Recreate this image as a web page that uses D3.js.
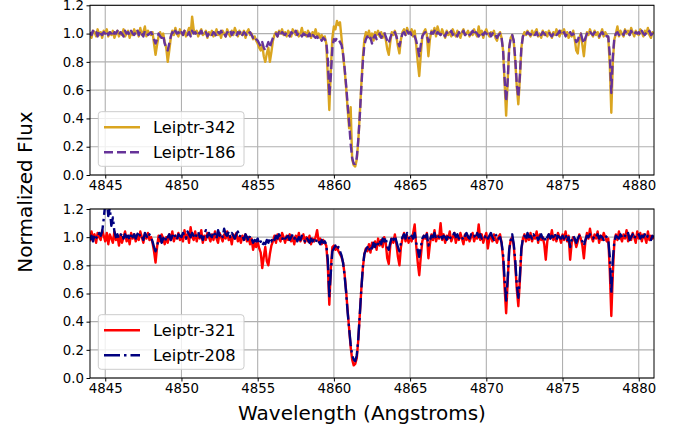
<!DOCTYPE html>
<html><head><meta charset="utf-8">
<script src="https://cdn.jsdelivr.net/npm/d3@7"></script>
<style>body{margin:0;background:#fff} svg{display:block} text{font-family:"DejaVu Sans",sans-serif}</style>
</head><body><svg id="c" width="678" height="432"></svg>
<script>
// Wavelength grid (Angstroms): 4844.0 .. 4881.0, 0.1 A sampling
const waveStart = 4844.0, waveStep = 0.1;
const xTicks = [4845, 4850, 4855, 4860, 4865, 4870, 4875, 4880];
const yTicks = [0.0, 0.2, 0.4, 0.6, 0.8, 1.0, 1.2];
const seriesTop = ["Leiptr-342", "Leiptr-186"];
const seriesBottom = ["Leiptr-321", "Leiptr-208"];

const flux342 = [
1.00,0.97,1.02,1.01,0.98,1.03,0.99,1.01,0.97,1.02,
1.00,1.03,0.98,1.01,0.99,1.02,0.97,1.00,1.02,0.98,
1.01,0.99,1.03,0.98,1.00,1.02,0.97,1.01,0.99,1.03,
1.00,1.02,0.98,1.04,0.99,1.01,1.05,0.98,1.02,1.00,
0.99,1.01,0.93,0.85,0.92,0.98,1.01,0.97,1.00,0.94,
0.90,0.80,0.88,0.97,1.02,0.99,1.04,1.00,0.98,1.03,
1.00,0.99,1.02,0.98,1.01,1.04,0.99,1.12,1.03,1.00,
1.02,0.98,1.01,1.03,0.99,1.00,1.02,0.97,1.01,0.99,
1.02,0.98,1.00,1.03,0.99,1.01,0.97,1.02,1.00,0.98,
1.03,1.00,0.98,1.02,0.99,1.04,1.01,0.98,1.02,1.00,
0.99,1.02,0.97,1.01,1.03,0.99,1.00,0.96,0.98,0.95,
0.93,0.90,0.88,0.92,0.84,0.80,0.86,0.90,0.80,0.87,
0.95,0.99,1.01,0.98,1.02,1.00,1.03,0.99,1.01,0.98,
1.02,1.00,0.98,1.03,1.01,0.99,1.02,0.98,1.00,1.04,
0.99,1.01,0.98,1.02,1.00,0.97,1.01,0.99,1.03,0.98,
1.00,0.97,0.99,0.96,0.98,0.93,0.70,0.46,0.75,0.97,
1.05,1.03,1.09,1.06,1.08,0.97,0.85,0.75,0.62,0.47,
0.33,0.48,0.11,0.07,0.06,0.11,0.24,0.43,0.64,0.83,
0.96,1.01,0.98,1.02,0.97,1.00,0.95,1.01,0.99,1.02,
0.98,1.01,0.97,1.00,0.96,0.89,0.85,0.94,1.01,0.99,
1.02,0.98,0.91,0.86,0.96,1.01,1.03,0.99,1.04,1.01,
1.00,1.03,0.98,1.02,0.92,0.80,0.70,0.85,0.98,1.01,
1.03,0.99,0.84,0.96,1.02,1.00,1.04,0.98,1.05,1.01,
0.99,1.03,1.00,0.97,1.02,0.99,1.01,0.98,1.03,1.00,
0.98,1.02,1.00,0.97,1.01,1.03,0.99,1.00,1.02,0.98,
1.01,0.99,1.03,1.00,0.98,1.05,0.99,1.02,0.97,1.01,
1.03,1.00,0.98,1.01,0.99,1.02,0.97,0.95,0.99,1.01,
0.97,0.88,0.65,0.42,0.66,0.90,0.97,0.99,0.94,0.80,
0.62,0.50,0.68,0.90,0.98,1.01,0.99,1.02,1.00,0.98,
1.02,0.99,1.01,1.03,0.98,1.00,0.97,1.02,0.99,1.01,
0.98,1.02,1.00,0.97,1.01,0.99,1.03,1.00,0.98,1.02,
1.00,1.03,0.99,1.01,0.97,1.00,0.98,1.02,0.96,0.88,
0.86,0.97,1.00,0.92,0.84,0.95,1.01,0.99,1.03,1.00,
0.98,1.02,0.99,1.01,0.97,1.00,1.03,0.98,1.01,0.99,
0.97,0.78,0.44,0.80,0.96,1.00,1.05,0.98,1.02,1.00,
0.98,1.03,1.00,1.02,0.99,1.04,1.01,0.98,1.02,1.00,
0.99,1.03,1.01,0.98,1.02,1.00,1.04,0.99,0.97,1.01,
1.00];

const flux186 = [
1.01,0.99,1.02,1.00,1.01,0.98,1.02,1.00,0.99,1.01,
1.00,1.02,0.99,1.01,1.00,0.98,1.01,1.00,1.02,0.99,
1.01,1.00,0.98,1.02,1.00,1.01,0.99,1.02,1.00,0.99,
1.01,1.03,0.99,1.02,1.00,0.98,1.02,1.01,0.99,1.00,
1.01,0.99,0.96,0.93,0.96,1.00,0.98,0.97,0.99,0.93,
0.90,0.88,0.93,0.98,1.01,0.99,1.02,1.00,1.01,0.99,
1.01,0.99,1.02,1.00,0.99,1.01,0.98,1.02,1.00,1.01,
0.99,1.01,1.00,1.02,0.99,1.00,1.01,0.98,1.00,1.01,
0.99,1.01,1.00,0.98,1.01,1.00,1.02,0.99,1.00,0.98,
1.01,1.00,1.02,0.99,1.01,1.00,0.98,1.01,1.00,1.02,
0.99,1.01,1.00,0.98,1.00,1.01,0.99,0.97,0.98,0.96,
0.95,0.93,0.91,0.94,0.90,0.88,0.91,0.94,0.90,0.94,
0.97,0.99,1.00,0.98,1.01,0.99,1.01,1.00,0.99,1.01,
1.00,0.98,1.01,1.00,0.99,1.02,0.99,1.01,1.00,0.98,
1.00,0.99,1.01,0.98,1.00,0.97,0.99,0.98,0.97,0.98,
0.96,0.97,0.95,0.97,0.96,0.94,0.82,0.56,0.70,0.90,
0.96,0.95,0.97,0.96,0.94,0.92,0.86,0.76,0.64,0.50,
0.37,0.22,0.12,0.08,0.08,0.12,0.25,0.42,0.62,0.80,
0.92,0.96,0.98,0.95,0.97,0.93,0.97,0.99,0.96,0.98,
1.00,0.97,0.99,1.01,0.98,0.95,0.93,0.97,1.00,0.99,
1.01,0.98,0.94,0.91,0.96,1.00,1.01,0.99,1.02,1.00,
1.01,0.99,1.00,0.98,0.95,0.90,0.84,0.92,0.98,1.00,
1.01,0.99,0.94,0.98,1.01,1.00,1.02,0.99,1.01,1.00,
0.99,1.01,1.00,0.98,1.01,0.99,1.00,1.02,0.99,1.01,
1.00,0.98,1.01,0.99,1.00,1.02,0.99,1.00,1.01,0.99,
1.00,1.02,0.99,1.01,1.00,0.98,1.01,1.00,0.99,1.01,
1.00,0.99,1.01,0.98,1.00,1.01,0.99,0.97,0.99,1.00,
0.97,0.88,0.68,0.52,0.66,0.90,0.97,0.99,0.95,0.82,
0.64,0.55,0.70,0.90,0.98,1.00,0.99,1.01,1.00,0.99,
1.01,1.00,0.99,1.01,0.98,1.00,0.99,1.01,1.00,0.99,
1.00,1.01,0.99,0.98,1.00,1.01,0.99,1.00,1.02,0.99,
1.00,1.01,0.98,1.00,0.99,1.01,0.99,1.00,0.97,0.94,
0.95,0.99,1.00,0.96,0.93,0.97,1.00,0.99,1.01,1.00,
0.99,1.01,1.00,0.99,0.98,1.00,1.01,0.99,1.00,0.98,
0.98,0.85,0.58,0.84,0.97,1.00,1.01,0.99,1.00,1.01,
0.99,1.02,1.00,1.01,0.99,1.02,1.00,0.99,1.01,1.00,
1.01,0.99,1.02,1.00,0.99,1.01,1.00,1.02,0.99,1.00,
1.00];

const flux321 = [
0.97,1.04,0.99,1.02,0.96,1.03,1.00,0.98,1.05,1.01,
0.97,1.03,0.95,1.02,0.99,0.96,1.04,0.98,1.01,0.94,
1.02,0.96,1.00,1.04,0.97,1.01,0.95,1.03,0.99,1.02,
0.97,1.01,0.98,1.04,1.00,0.96,1.02,0.99,1.03,0.98,
1.00,0.96,0.90,0.82,0.93,1.01,0.97,1.02,0.99,0.95,
1.00,0.96,1.02,0.98,1.04,0.97,1.01,0.99,1.03,0.98,
1.01,0.97,1.05,0.99,1.02,0.96,1.07,1.00,0.98,1.04,
0.97,1.02,0.99,1.05,0.96,1.01,0.98,1.03,1.00,0.97,
1.02,0.98,1.04,0.99,0.96,1.03,1.00,0.97,1.02,0.99,
1.04,0.98,1.01,0.95,1.02,0.99,1.03,0.97,1.00,0.96,
1.01,0.98,1.02,0.97,1.00,0.95,0.99,0.91,0.96,0.93,
0.97,0.92,0.89,0.78,0.86,0.93,0.83,0.80,0.88,0.94,
0.97,1.01,0.96,1.02,0.99,0.97,1.03,1.00,0.96,1.01,
0.98,1.02,0.97,1.00,0.95,1.01,0.98,1.03,0.97,0.99,
1.02,0.96,1.00,0.97,1.01,0.95,0.99,0.97,1.00,1.05,
0.97,0.99,0.95,0.98,0.96,0.94,0.80,0.52,0.78,0.93,
0.94,0.91,0.93,0.90,0.88,0.86,0.82,0.74,0.62,0.48,
0.35,0.22,0.13,0.09,0.10,0.14,0.27,0.45,0.63,0.78,
0.88,0.92,0.90,0.95,0.89,0.96,0.93,0.97,0.91,0.99,
0.94,0.98,0.93,1.00,0.96,0.85,0.81,0.94,0.99,0.96,
1.02,0.95,0.86,0.80,0.93,0.99,1.03,0.97,1.01,0.96,
1.00,0.97,1.03,1.09,0.94,0.82,0.73,0.86,0.97,1.01,
0.99,1.03,0.85,0.95,1.02,0.98,1.05,0.97,1.01,0.99,
1.10,0.98,1.02,0.96,1.01,0.99,1.04,0.97,1.00,1.03,
0.96,1.01,0.98,1.03,0.99,0.95,1.02,0.98,1.01,0.97,
1.00,1.03,0.97,1.01,0.99,1.09,0.98,1.02,0.96,1.00,
1.03,0.92,0.99,1.01,0.97,1.02,0.99,0.96,1.00,1.02,
0.96,0.85,0.64,0.46,0.68,0.91,0.98,1.00,0.94,0.80,
0.63,0.51,0.69,0.91,0.99,1.02,0.97,1.01,0.98,1.03,
0.97,1.01,0.99,1.04,0.96,1.02,0.98,1.00,0.95,0.84,
0.97,1.02,0.99,1.05,0.98,1.01,0.97,1.03,1.00,0.96,
1.02,0.98,1.04,0.97,1.01,0.84,0.96,1.00,0.98,0.93,
0.97,1.02,0.99,0.94,0.85,0.97,1.03,0.99,1.06,1.00,
0.97,1.02,0.99,1.04,0.96,1.01,0.98,1.03,1.00,0.97,
0.99,0.76,0.44,0.74,0.97,1.02,0.98,1.04,1.00,0.97,
1.02,0.99,1.05,0.97,1.01,0.98,1.03,1.00,0.96,1.04,
0.99,1.03,0.97,1.02,1.00,0.96,1.04,0.98,1.01,0.99,
1.00];

const flux208 = [
0.98,1.01,0.97,1.02,1.00,0.99,1.03,1.01,1.04,1.13,
1.24,1.27,1.15,1.21,1.08,1.14,1.04,1.00,1.02,0.99,
1.01,1.03,0.99,1.02,1.00,1.01,0.98,1.03,1.00,1.02,
0.99,1.02,1.04,1.00,1.01,0.98,1.03,1.01,0.99,1.02,
1.00,0.97,0.93,0.90,0.94,0.98,1.01,0.96,0.99,1.01,
0.97,1.00,1.02,0.98,1.01,1.03,1.00,0.98,1.02,1.01,
1.00,1.03,1.01,0.99,1.04,1.02,1.00,1.03,1.01,0.99,
1.02,1.04,1.00,1.01,0.98,1.02,1.05,1.00,1.03,1.01,
1.00,1.04,1.02,0.99,1.05,1.01,1.03,1.00,1.06,1.02,
1.01,1.04,1.00,1.03,1.01,0.99,1.02,1.04,1.00,1.02,
1.01,0.98,1.02,1.00,0.97,1.01,0.99,0.96,0.98,0.97,
0.99,0.95,0.97,0.94,0.96,0.95,0.98,0.96,0.99,0.97,
1.00,0.98,1.01,0.99,1.02,1.00,0.98,1.01,0.99,1.00,
1.01,0.98,1.00,1.02,0.99,1.01,0.97,1.00,0.98,1.01,
0.99,0.97,1.00,0.98,0.96,0.99,0.97,0.98,0.96,0.99,
0.97,0.95,0.98,0.96,0.97,0.95,0.84,0.58,0.75,0.90,
0.92,0.94,0.91,0.93,0.90,0.87,0.82,0.73,0.61,0.47,
0.35,0.24,0.16,0.13,0.12,0.16,0.28,0.45,0.63,0.79,
0.88,0.91,0.93,0.90,0.94,0.92,0.96,0.93,0.97,0.95,
0.98,0.95,0.99,0.97,1.00,0.93,0.91,0.96,1.00,0.98,
1.01,0.97,0.93,0.90,0.96,1.00,1.02,0.99,1.03,1.00,
0.98,1.01,0.99,1.03,0.96,0.91,0.86,0.93,0.99,1.01,
1.00,1.02,0.94,0.98,1.01,1.00,1.03,0.99,1.01,1.00,
1.02,0.99,1.01,1.00,0.98,1.02,1.00,0.99,1.01,1.03,
1.00,1.02,0.99,1.01,1.00,0.98,1.01,1.03,1.00,0.99,
1.02,1.00,1.01,0.99,1.03,1.00,1.02,0.99,1.01,1.00,
1.02,0.99,1.01,1.03,1.00,0.98,1.01,1.02,0.99,1.00,
0.96,0.88,0.70,0.55,0.70,0.91,0.98,1.02,0.95,0.83,
0.66,0.57,0.72,0.92,0.99,1.01,0.98,1.03,1.00,1.01,
0.99,1.02,1.00,1.01,0.98,1.00,1.02,0.99,1.01,0.97,
1.00,1.02,0.99,1.01,1.00,1.03,0.98,1.01,1.00,0.99,
1.01,0.99,1.02,0.97,1.00,0.93,0.98,1.01,0.99,0.96,
0.99,1.01,1.00,0.97,0.94,0.98,1.01,1.00,1.02,1.00,
0.99,1.01,1.00,1.02,0.99,1.01,1.00,0.98,1.01,1.00,
0.98,0.86,0.60,0.84,0.97,1.01,1.00,0.99,1.02,1.00,
0.99,1.01,1.00,1.03,0.98,1.00,1.02,0.99,1.01,1.00,
1.02,0.99,1.01,1.00,1.02,0.99,1.01,1.00,0.98,1.01,
1.00];

const svg = d3.select("#c");
const W = 678;
const left = 90, right = 654;
const x = d3.scaleLinear().domain([4844, 4881]).range([left, right]);
const waveAt = i => waveStart + i * waveStep;

function panel(top, bottom, series, id) {
  const y = d3.scaleLinear().domain([0, 1.2]).range([bottom, top]);
  const g = svg.append("g");
  g.append("clipPath").attr("id", "clip" + id).append("rect")
    .attr("x", left).attr("y", top).attr("width", right - left).attr("height", bottom - top);
  // grid
  g.append("g").selectAll("line").data(xTicks).join("line")
    .attr("x1", d => x(d)).attr("x2", d => x(d)).attr("y1", top).attr("y2", bottom)
    .attr("stroke", "#b0b0b0").attr("stroke-width", 1.1);
  g.append("g").selectAll("line").data(yTicks).join("line")
    .attr("x1", left).attr("x2", right).attr("y1", d => y(d)).attr("y2", d => y(d))
    .attr("stroke", "#b0b0b0").attr("stroke-width", 1.1);
  // lines
  const line = d3.line().x((d, i) => x(waveAt(i))).y(d => y(d));
  const lg = g.append("g").attr("clip-path", `url(#clip${id})`);
  series.forEach(s => {
    lg.append("path").datum(s.values).attr("d", line)
      .attr("fill", "none").attr("stroke", s.color).attr("stroke-width", 2.4)
      .attr("stroke-dasharray", s.dash || null).attr("stroke-linejoin", "round");
  });
  // axes
  const xa = g.append("g").attr("transform", `translate(0,${bottom})`)
    .call(d3.axisBottom(x).tickValues(xTicks).tickFormat(d3.format("d")).tickSize(3.5).tickPadding(2.4));
  const ya = g.append("g").attr("transform", `translate(${left},0)`)
    .call(d3.axisLeft(y).tickValues(yTicks).tickFormat(d3.format(".1f")).tickSize(3.5).tickPadding(2.6));
  [xa, ya].forEach(a => {
    a.select(".domain").remove();
    a.selectAll("text").attr("font-size", "13.3px").attr("font-family", "DejaVu Sans").attr("fill", "#000");
    a.selectAll("line").attr("stroke", "#000").attr("stroke-width", 1);
  });
  g.append("rect").attr("x", left).attr("y", top).attr("width", right - left).attr("height", bottom - top)
    .attr("fill", "none").attr("stroke", "#000").attr("stroke-width", 1);
  // legend
  const ly = bottom - 63.3;
  const leg = g.append("g");
  leg.append("rect").attr("x", 98.3).attr("y", ly).attr("width", 145.7).attr("height", 54.6)
    .attr("rx", 3).attr("fill", "#fff").attr("fill-opacity", 0.8).attr("stroke", "#cccccc").attr("stroke-width", 1);
  series.forEach((s, k) => {
    const yy = ly + 15.5 + k * 25;
    leg.append("line").attr("x1", 104).attr("x2", 140).attr("y1", yy).attr("y2", yy)
      .attr("stroke", s.color).attr("stroke-width", 2.4).attr("stroke-dasharray", s.dash || null);
    leg.append("text").attr("x", 153).attr("y", yy + 6).attr("font-size", "16.3px").attr("fill", "#000").text(s.name);
  });
}

panel(5.3, 175, [
  {name: seriesTop[0], values: flux342, color: "#DAA520"},
  {name: seriesTop[1], values: flux186, color: "#663399", dash: "9,4"}
], "a");
panel(209, 378, [
  {name: seriesBottom[0], values: flux321, color: "#ff0000"},
  {name: seriesBottom[1], values: flux208, color: "#000080", dash: "16,4,2.5,4"}
], "b");

svg.append("text").attr("x", 362).attr("y", 420).attr("text-anchor", "middle")
  .attr("font-size", "20px").attr("fill", "#000").text("Wavelength (Angstroms)");
svg.append("text").attr("transform", "translate(32,192) rotate(-90)").attr("text-anchor", "middle")
  .attr("font-size", "20px").attr("fill", "#000").text("Normalized Flux");
</script></body></html>
